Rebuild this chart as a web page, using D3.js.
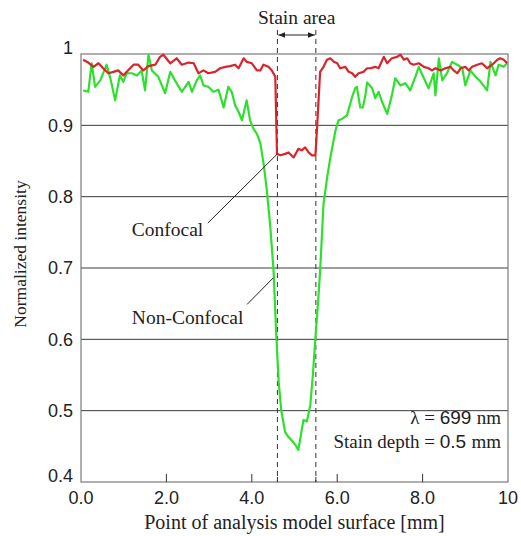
<!DOCTYPE html>
<html>
<head>
<meta charset="utf-8">
<script src="https://cdn.jsdelivr.net/npm/d3@7"></script>
<style>
  body { margin: 0; background: #fff; }
  .serif { font-family: "Liberation Serif", "Times New Roman", serif; }
  .sans { font-family: "Liberation Sans", Arial, sans-serif; }
</style>
</head>
<body>
<div id="chart"></div>
<script>
// confocal (red) profile
var confX = [0.05,0.17,0.29,0.41,0.52,0.64,0.76,0.87,0.99,1.10,1.23,1.34,1.46,1.58,1.74,1.85,1.93,2.09,2.24,2.36,2.52,2.64,2.75,2.87,2.98,3.14,3.26,3.38,3.49,3.61,3.69,3.81,3.88,4.00,4.12,4.20,4.27,4.39,4.47,4.55,4.59,4.67,4.78,4.86,4.98,5.09,5.17,5.25,5.33,5.41,5.49,5.53,5.60,5.68,5.76,5.84,5.92,6.00,6.07,6.19,6.27,6.35,6.42,6.50,6.62,6.70,6.78,6.89,6.97,7.09,7.17,7.28,7.40,7.48,7.56,7.64,7.71,7.79,7.91,8.03,8.14,8.22,8.30,8.42,8.53,8.65,8.73,8.81,8.89,9.00,9.08,9.16,9.28,9.39,9.51,9.63,9.75,9.82,9.90,9.98];
var confY = [0.992,0.988,0.982,0.987,0.980,0.973,0.975,0.977,0.970,0.977,0.985,0.985,0.977,0.983,0.985,0.996,0.999,0.987,0.994,0.985,0.988,0.987,0.973,0.977,0.973,0.975,0.980,0.982,0.983,0.985,0.980,0.994,0.989,0.987,0.977,0.977,0.985,0.982,0.977,0.968,0.860,0.858,0.860,0.862,0.855,0.867,0.865,0.869,0.862,0.858,0.858,0.898,0.975,0.982,0.992,0.994,0.989,0.987,0.980,0.982,0.975,0.973,0.968,0.973,0.975,0.980,0.980,0.982,0.980,0.996,0.987,0.994,0.996,0.999,0.992,0.994,0.987,0.985,0.987,0.982,0.980,0.977,0.980,0.977,0.980,0.982,0.977,0.973,0.980,0.982,0.977,0.982,0.985,0.987,0.980,0.985,0.992,0.994,0.992,0.987];

// non-confocal (green) profile
var nonConfX = [0.05,0.17,0.25,0.33,0.45,0.60,0.68,0.80,0.91,0.99,1.07,1.19,1.31,1.42,1.50,1.58,1.66,1.81,1.97,2.09,2.20,2.36,2.52,2.60,2.71,2.79,2.87,2.98,3.10,3.22,3.34,3.45,3.53,3.61,3.69,3.77,3.88,3.96,4.04,4.12,4.20,4.28,4.35,4.43,4.51,4.57,4.63,4.69,4.78,4.86,4.94,5.02,5.09,5.17,5.21,5.29,5.37,5.43,5.49,5.55,5.60,5.68,5.76,5.84,5.96,6.03,6.11,6.23,6.35,6.42,6.46,6.54,6.60,6.66,6.70,6.82,6.89,6.97,7.05,7.17,7.28,7.36,7.48,7.60,7.71,7.83,7.91,8.03,8.14,8.26,8.30,8.38,8.46,8.57,8.69,8.81,8.93,9.00,9.12,9.24,9.36,9.51,9.59,9.71,9.78,9.90,9.98];
var nonConfY = [0.949,0.947,0.987,0.954,0.963,0.985,0.968,0.935,0.970,0.961,0.973,0.973,0.970,0.977,0.949,0.999,0.977,0.968,0.945,0.975,0.963,0.947,0.961,0.947,0.963,0.970,0.956,0.954,0.947,0.950,0.925,0.954,0.947,0.928,0.919,0.907,0.935,0.907,0.895,0.888,0.875,0.845,0.810,0.760,0.696,0.610,0.540,0.500,0.470,0.463,0.458,0.452,0.445,0.473,0.487,0.485,0.508,0.550,0.602,0.650,0.696,0.790,0.825,0.855,0.893,0.907,0.909,0.914,0.940,0.952,0.954,0.925,0.925,0.942,0.960,0.952,0.938,0.947,0.933,0.916,0.942,0.966,0.956,0.959,0.949,0.968,0.982,0.966,0.952,0.973,0.942,0.994,0.963,0.973,0.989,0.985,0.980,0.956,0.977,0.968,0.961,0.949,0.989,0.970,0.985,0.982,0.987];

var xTicks = [0, 2, 4, 6, 8, 10];
var xTickLabels = ["0.0", "2.0", "4.0", "6.0", "8.0", "10"];
var yTicks = [0.4, 0.5, 0.6, 0.7, 0.8, 0.9, 1];
var yTickLabels = ["0.4", "0.5", "0.6", "0.7", "0.8", "0.9", "1"];
var stainEdges = [4.6, 5.5];

var W = 521, H = 536;
var margin = { top: 54, right: 13, bottom: 54, left: 81 };
var width = W - margin.left - margin.right;
var height = H - margin.top - margin.bottom;

var svg = d3.select("#chart").append("svg")
    .attr("width", W)
    .attr("height", H);

var g = svg.append("g")
    .attr("transform", "translate(" + margin.left + "," + margin.top + ")");

var x = d3.scaleLinear().domain([0, 10]).range([0, width]);
var y = d3.scaleLinear().domain([0.4, 1]).range([height, 0]);

// horizontal grid lines
g.append("g").selectAll("line")
    .data(yTicks.slice(1, -1))
    .enter().append("line")
    .attr("x1", 0).attr("x2", width)
    .attr("y1", function(d) { return y(d); })
    .attr("y2", function(d) { return y(d); })
    .attr("stroke", "#3a3a3a")
    .attr("stroke-width", 1);

// frame
g.append("rect")
    .attr("x", 0).attr("y", 0)
    .attr("width", width).attr("height", height)
    .attr("fill", "none")
    .attr("stroke", "#7a7a7a")
    .attr("stroke-width", 1.2);

// bottom ticks (inside)
g.append("g").selectAll("line")
    .data(xTicks.slice(1, -1))
    .enter().append("line")
    .attr("x1", function(d) { return x(d); })
    .attr("x2", function(d) { return x(d); })
    .attr("y1", height).attr("y2", height - 8)
    .attr("stroke", "#333");
g.append("g").selectAll("line")
    .data(stainEdges)
    .enter().append("line")
    .attr("x1", function(d) { return x(d); })
    .attr("x2", function(d) { return x(d); })
    .attr("y1", height).attr("y2", height - 5)
    .attr("stroke", "#333");

// tick labels
g.append("g").selectAll("text")
    .data(xTicks)
    .enter().append("text")
    .attr("class", "sans")
    .attr("x", function(d) { return x(d); })
    .attr("y", height + 22)
    .attr("text-anchor", "middle")
    .style("font-size", "18px")
    .attr("fill", "#222")
    .text(function(d, i) { return xTickLabels[i]; });

g.append("g").selectAll("text")
    .data(yTicks)
    .enter().append("text")
    .attr("class", "sans")
    .attr("x", -8)
    .attr("y", function(d, i) {
        var off = (i == 0 || i == yTicks.length - 1) ? -6 : 0;
        return y(d) + off;
    })
    .attr("dy", "0.35em")
    .attr("text-anchor", "end")
    .style("font-size", "18px")
    .attr("fill", "#222")
    .text(function(d, i) { return yTickLabels[i]; });

// axis titles
svg.append("text")
    .attr("class", "serif")
    .attr("x", margin.left + width / 2)
    .attr("y", H - 7)
    .attr("text-anchor", "middle")
    .style("font-size", "20px")
    .attr("fill", "#222")
    .text("Point of analysis model surface [mm]");

svg.append("text")
    .attr("class", "serif")
    .attr("transform", "translate(26," + (margin.top + height / 2 - 14) + ") rotate(-90)")
    .attr("text-anchor", "middle")
    .style("font-size", "17.5px")
    .attr("fill", "#222")
    .text("Normalized intensity");

// stain area markers
g.append("g").selectAll("line")
    .data(stainEdges)
    .enter().append("line")
    .attr("x1", function(d) { return x(d); })
    .attr("x2", function(d) { return x(d); })
    .attr("y1", -24).attr("y2", height)
    .attr("stroke", "#333")
    .attr("stroke-width", 1)
    .attr("stroke-dasharray", "5,4");

var defs = svg.append("defs");
defs.append("marker")
    .attr("id", "arr")
    .attr("viewBox", "0 0 10 10")
    .attr("refX", 10).attr("refY", 5)
    .attr("markerWidth", 7).attr("markerHeight", 7)
    .attr("orient", "auto-start-reverse")
    .append("path")
    .attr("d", "M0,1L10,5L0,9Z")
    .attr("fill", "#222");

g.append("line")
    .attr("x1", x(stainEdges[0]) + 1).attr("x2", x(stainEdges[1]) - 1)
    .attr("y1", -19).attr("y2", -19)
    .attr("stroke", "#222")
    .attr("stroke-width", 1)
    .attr("marker-start", "url(#arr)")
    .attr("marker-end", "url(#arr)");

g.append("text")
    .attr("class", "serif")
    .attr("x", x((stainEdges[0] + stainEdges[1]) / 2))
    .attr("y", -30)
    .attr("text-anchor", "middle")
    .style("font-size", "19.5px")
    .attr("fill", "#222")
    .text("Stain area");

// data lines
var line = d3.line()
    .x(function(d) { return x(d[0]); })
    .y(function(d) { return y(d[1]); });

g.append("path")
    .datum(d3.zip(nonConfX, nonConfY))
    .attr("d", line)
    .attr("fill", "none")
    .attr("stroke", "#2ee02e")
    .attr("stroke-width", 2.2)
    .attr("stroke-linejoin", "round");

g.append("path")
    .datum(d3.zip(confX, confY))
    .attr("d", line)
    .attr("fill", "none")
    .attr("stroke", "#d9242b")
    .attr("stroke-width", 2.2)
    .attr("stroke-linejoin", "round");

// annotations
var notes = [
    { label: "Confocal", tx: 1.19, ty: 0.745, from: [2.97, 0.763], to: [4.6, 0.860] },
    { label: "Non-Confocal", tx: 1.19, ty: 0.622, from: [3.89, 0.649], to: [4.5, 0.686] }
];
notes.forEach(function(n) {
    g.append("line")
        .attr("x1", x(n.from[0])).attr("y1", y(n.from[1]))
        .attr("x2", x(n.to[0])).attr("y2", y(n.to[1]))
        .attr("stroke", "#222")
        .attr("stroke-width", 1);
    g.append("text")
        .attr("class", "serif")
        .attr("x", x(n.tx))
        .attr("y", y(n.ty))
        .style("font-size", "19.5px")
        .attr("fill", "#222")
        .text(n.label);
});

// conditions
var cond = g.append("text")
    .attr("class", "sans")
    .attr("x", width - 7)
    .attr("y", y(0.4) - 58)
    .attr("text-anchor", "end")
    .style("font-size", "19px")
    .attr("fill", "#222");
cond.append("tspan").attr("class", "serif").text("λ");
cond.append("tspan").attr("class", "serif").text(" = ");
cond.append("tspan").text("699 ");
cond.append("tspan").attr("class", "serif").text("nm");

var cond2 = g.append("text")
    .attr("class", "sans")
    .attr("x", width - 7)
    .attr("y", y(0.4) - 34)
    .attr("text-anchor", "end")
    .style("font-size", "19px")
    .attr("fill", "#222");
cond2.append("tspan").attr("class", "serif").text("Stain depth = ");
cond2.append("tspan").text("0.5 ");
cond2.append("tspan").attr("class", "serif").text("mm");
</script>
</body>
</html>
